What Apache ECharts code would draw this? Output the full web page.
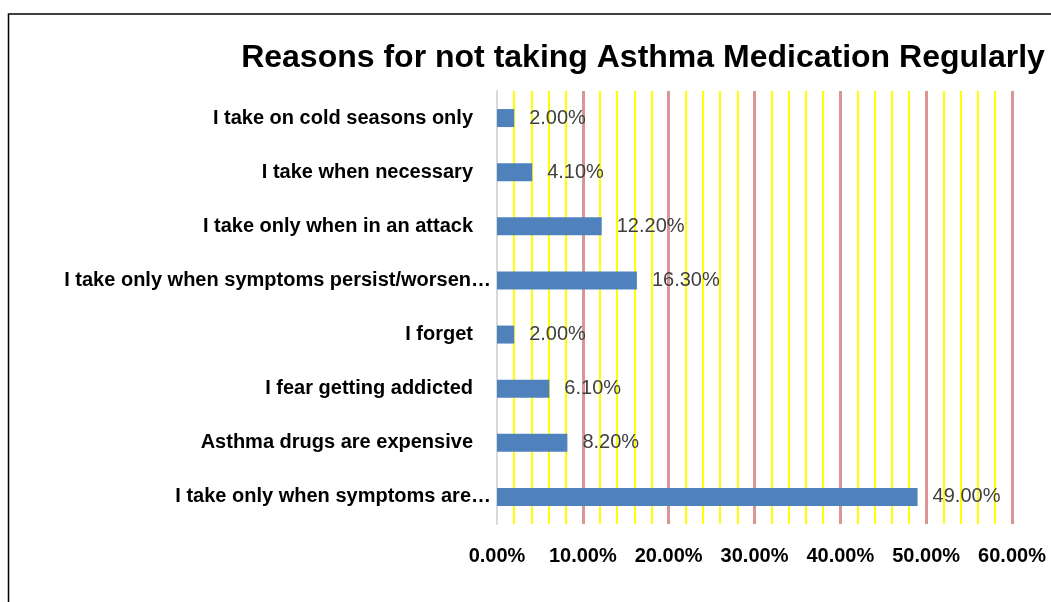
<!DOCTYPE html>
<html>
<head>
<meta charset="utf-8">
<script src="https://cdn.jsdelivr.net/npm/echarts@6/dist/echarts.min.js"></script>
<style>
html,body{margin:0;padding:0;background:#fff;}
#c{width:1051px;height:602px;}
</style>
</head>
<body>
<div id="c"></div>
<script>
const categories = [
  'I take on cold seasons only',
  'I take when necessary',
  'I take only when in an attack',
  'I take only when symptoms persist/worsen\u2026',
  'I forget',
  'I fear getting addicted',
  'Asthma drugs are expensive',
  'I take only when symptoms are\u2026'
];
const values = [2.0, 4.1, 12.2, 16.3, 2.0, 6.1, 8.2, 49.0];
const titleText = 'Reasons for not taking Asthma Medication Regularly';

const chart = echarts.init(document.getElementById('c'));
const FONT = '"Liberation Sans", Arial, sans-serif';
chart.setOption({
  animation: false,
  backgroundColor: '#fff',
  title: {
    text: titleText,
    left: 638, top: 37, textAlign: 'center',
    textStyle: {fontFamily: FONT, fontWeight: 'bold', fontSize: 32, color: '#000'}
  },
  graphic: [{
    type: 'rect', silent: true,
    shape: {x: 8.5, y: 14, width: 1100, height: 700},
    style: {fill: 'none', stroke: '#000', lineWidth: 1.5}
  }],
  grid: {left: 497, right: 39, top: 91, bottom: 78, containLabel: false},
  xAxis: {
    type: 'value', min: 0, max: 60, interval: 10,
    axisLine: {show: false}, axisTick: {show: false},
    axisLabel: {
      margin: 22, color: '#000', fontFamily: FONT, fontWeight: 'bold', fontSize: 20,
      formatter: v => v.toFixed(2) + '%'
    },
    splitLine: {show: true, lineStyle: {color: ['rgba(0,0,0,0)', '#D99694', '#D99694', '#D99694', '#D99694', '#D99694', '#D99694'], width: 3}},
    minorTick: {show: false, splitNumber: 5},
    minorSplitLine: {show: true, lineStyle: {color: '#FFFF00', width: 2}}
  },
  yAxis: {
    type: 'category', data: categories, inverse: true,
    axisLine: {show: true, lineStyle: {color: '#D9D9D9', width: 2}},
    axisTick: {show: false},
    axisLabel: {
      margin: 6, color: '#000', fontFamily: FONT, fontWeight: 'bold', fontSize: 20,
      formatter: v => v.endsWith('\u2026') ? v : v + '{sp| }',
      rich: {sp: {width: 18, fontSize: 20}}
    },
    splitLine: {show: false}
  },
  series: [{
    type: 'bar', data: values, barWidth: 18,
    itemStyle: {color: '#4F81BD'},
    label: {
      show: true, position: 'right', distance: 15,
      color: '#404040', fontFamily: FONT, fontSize: 20,
      formatter: p => p.value.toFixed(2) + '%'
    },
    z: 3
  }]
});
</script>
</body>
</html>
